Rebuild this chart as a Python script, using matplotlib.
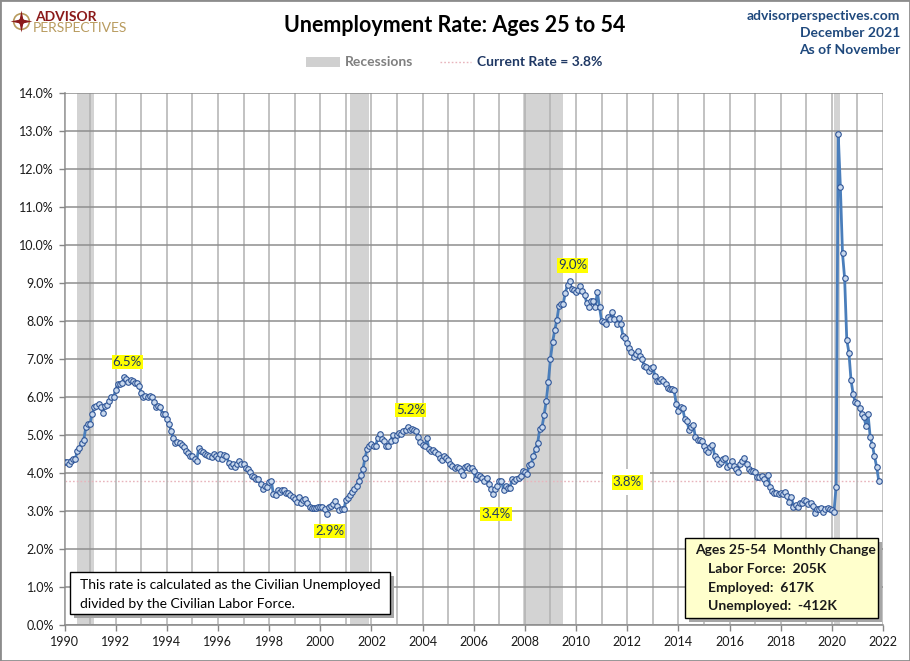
import numpy as np
import matplotlib
matplotlib.use('Agg')
import matplotlib.pyplot as plt
from matplotlib.patches import Rectangle, Polygon, Circle
from matplotlib.lines import Line2D

plt.rcParams['font.family'] = ['Lato', 'DejaVu Sans']

# ---------------- data ----------------
start_year = 1990
rates_1990s = [
    4.30, 4.28, 4.23, 4.32, 4.36, 4.36, 4.58, 4.67, 4.78, 4.86, 5.20, 5.29,
    5.30, 5.55, 5.73, 5.77, 5.81, 5.73, 5.59, 5.77, 5.80, 5.90, 5.99, 6.00,
    6.18, 6.34, 6.34, 6.36, 6.52, 6.47, 6.40, 6.45, 6.43, 6.38, 6.36, 6.30,
    6.10, 5.99, 6.03, 5.99, 6.03, 5.99, 5.86, 5.73, 5.77, 5.73, 5.55, 5.55,
    5.42, 5.29, 5.11, 4.93, 4.78, 4.82, 4.78, 4.73, 4.69, 4.58, 4.53, 4.45,
    4.45, 4.36, 4.32, 4.67, 4.58, 4.54, 4.50, 4.48, 4.45, 4.41, 4.51, 4.45,
    4.40, 4.49, 4.36, 4.47, 4.45, 4.27, 4.19, 4.23, 4.16, 4.23, 4.32, 4.23,
    4.23, 4.14, 4.10, 4.02, 3.93, 3.89, 3.83, 3.84, 3.72, 3.58, 3.67, 3.63,
    3.76, 3.80, 3.45, 3.41, 3.54, 3.50, 3.54, 3.56, 3.47, 3.47, 3.41, 3.37,
    3.32, 3.24, 3.37, 3.21, 3.30, 3.31, 3.22, 3.11, 3.09, 3.07, 3.09, 3.11,
]
rates_2000s = [
    3.11, 3.11, 3.06, 2.92, 3.11, 3.12, 3.18, 3.26, 3.12, 3.02, 3.04, 3.04,
    3.28, 3.35, 3.41, 3.50, 3.58, 3.67, 3.80, 3.95, 4.10, 4.40, 4.63, 4.70,
    4.76, 4.72, 4.72, 4.92, 5.02, 4.89, 4.85, 4.72, 4.72, 4.85, 5.00, 4.87,
    5.00, 5.05, 5.02, 5.11, 5.13, 5.22, 5.13, 5.15, 5.14, 5.11, 4.94, 4.82,
    4.74, 4.72, 4.91, 4.63, 4.59, 4.61, 4.54, 4.50, 4.40, 4.34, 4.45, 4.40,
    4.34, 4.24, 4.19, 4.13, 4.15, 4.13, 4.06, 3.96, 4.17, 4.19, 4.13, 4.13,
    4.05, 3.85, 3.96, 3.93, 3.86, 3.79, 3.87, 3.72, 3.58, 3.44, 3.58, 3.67,
    3.80, 3.80, 3.54, 3.65, 3.61, 3.61, 3.85, 3.80, 3.85, 3.87, 3.91, 4.05,
    4.02, 3.98, 4.20, 4.24, 4.45, 4.62, 4.80, 5.17, 5.20, 5.53, 5.89, 6.40,
    7.01, 7.45, 7.76, 8.03, 8.40, 8.46, 8.46, 8.75, 8.95, 9.04, 8.84, 8.82,
]
rates_2010s = [
    8.77, 8.82, 8.93, 8.78, 8.69, 8.48, 8.38, 8.52, 8.52, 8.36, 8.77, 8.36,
    8.00, 7.98, 7.92, 8.11, 8.05, 8.23, 8.04, 7.92, 8.08, 7.92, 7.61, 7.54,
    7.41, 7.28, 7.19, 7.04, 7.13, 7.22, 7.09, 7.00, 6.82, 6.80, 6.69, 6.76,
    6.80, 6.56, 6.43, 6.43, 6.47, 6.43, 6.34, 6.24, 6.21, 6.20, 6.18, 5.82,
    5.64, 5.75, 5.71, 5.42, 5.38, 5.13, 5.20, 5.26, 4.94, 4.87, 4.87, 4.83,
    4.72, 4.60, 4.54, 4.68, 4.75, 4.46, 4.37, 4.24, 4.30, 4.37, 4.39, 4.17,
    4.22, 4.32, 4.19, 4.10, 4.02, 4.24, 4.31, 4.39, 4.25, 4.10, 4.06, 4.05,
    4.02, 3.89, 3.89, 3.93, 3.84, 3.73, 3.96, 3.62, 3.52, 3.47, 3.47, 3.45,
    3.47, 3.45, 3.49, 3.40, 3.23, 3.38, 3.11, 3.15, 3.11, 3.22, 3.20, 3.28,
    3.26, 3.19, 3.20, 3.13, 2.96, 3.04, 3.06, 3.09, 2.98, 3.06, 3.09, 3.04,
]
rates_2020s = [
    3.02, 2.98, 3.64, 12.91, 11.53, 9.78, 9.12, 7.51, 7.17, 6.44, 6.08, 5.86,
    5.85, 5.71, 5.54, 5.47, 5.25, 5.54, 4.94, 4.74, 4.44, 4.17, 3.80,
]

recession_starts = [1990.50, 2001.17, 2007.92, 2020.08]
recession_ends = [1991.17, 2001.92, 2009.50, 2020.33]

current_rate = 3.8
y_tick_values = list(range(0, 15))
x_tick_years = list(range(1990, 2023, 2))

box_note_lines = ["This rate is calculated as the Civilian Unemployed",
                  "divided by the Civilian Labor Force."]
change_title = "Ages 25-54  Monthly Change"
change_labels = ["Labor Force:", "Employed:", "Unemployed:"]
change_values = ["205K", "617K", "-412K"]

# ---------------- figure ----------------
W, H = 910, 661
fig = plt.figure(figsize=(W / 100, H / 100), dpi=100)
fig.patch.set_facecolor('white')

def fx(px):
    return px / W

def fy(py):
    return 1 - py / H

ax_left, ax_right, ax_top, ax_bottom = 64.5, 883, 93, 625
ax = fig.add_axes([fx(ax_left), fy(ax_bottom), (ax_right - ax_left) / W, (ax_bottom - ax_top) / H])

rates = np.array(rates_1990s + rates_2000s + rates_2010s + rates_2020s)
x = start_year + np.arange(len(rates)) / 12.0

for s, e in zip(recession_starts, recession_ends):
    ax.axvspan(s, e, color='#D3D3D3', lw=0, zorder=0)

ax.set_xlim(1990, 2022)
ax.set_ylim(0, 14)
ax.set_xticks(x_tick_years)
ax.set_xticks(list(range(1990, 2023)), minor=True)
ax.set_yticks(y_tick_values)
ax.set_yticklabels([f"{v:.1f}%" for v in y_tick_values])
ax.set_xticklabels([str(v) for v in x_tick_years])

ax.grid(axis='x', which='both', color='#B2B2B2', lw=1.1, zorder=1)
ax.grid(axis='y', which='major', color='#8E8E8E', lw=1.1, zorder=1)
ax.set_axisbelow(False)
for sp in ['top', 'right']:
    ax.spines[sp].set_visible(False)
for sp in ['left', 'bottom']:
    ax.spines[sp].set_color('#868686')
    ax.spines[sp].set_linewidth(1.1)
ax.tick_params(axis='both', which='major', labelsize=9, colors='#868686',
               labelcolor='#1a1a1a', length=4, width=1)
ax.tick_params(axis='x', which='minor', length=0)
ax.tick_params(axis='x', pad=4)

ax.axhline(current_rate, color='#E8B4BC', lw=1, ls=(0, (1.2, 1.5)), zorder=2)

ax.plot(x, rates, color='#4A7EBB', lw=2, zorder=4,
        marker='o', markersize=4, markerfacecolor='#C9D9EE',
        markeredgecolor='#2F5597', markeredgewidth=0.8)

# annotations of extremes
lab_style = dict(color='#1F3864', fontsize=9.5, ha='center', va='center',
                 bbox=dict(boxstyle='square,pad=0.08', fc='#FFFF00', ec='none'), zorder=6)

def label_point(mask_lo, mask_hi, kind, dy):
    sel = (x >= mask_lo) & (x < mask_hi)
    idx = np.where(sel)[0]
    i = idx[np.argmax(rates[idx])] if kind == 'max' else idx[np.argmin(rates[idx])]
    ax.annotate(f"{rates[i]:.1f}%", xy=(x[i], rates[i]), xytext=(3, dy),
                textcoords='offset pixels', **lab_style)

label_point(1990, 1996, 'max', 15)
label_point(2002, 2006, 'max', 17)
label_point(2008, 2012, 'max', 16)
label_point(1999, 2002, 'min', -17)
label_point(2005, 2008, 'min', -20)

ax.text(2012.0, current_rate - 0.05, f"{current_rate:.1f}%", zorder=6,
        **{k: v for k, v in lab_style.items() if k != 'zorder'})
ax.add_patch(Rectangle((2011.05, current_rate - 0.38), 1.85, 0.68, fc='white', ec='none', zorder=3))

# ---------------- header ----------------
fig.text(fx(455), fy(25), "Unemployment Rate: Ages 25 to 54", ha='center', va='center',
         fontsize=15.5, fontweight='bold', color='black')

navy = '#1F497D'
for i, t in enumerate(["advisorperspectives.com", "December 2021", "As of November"]):
    fig.text(fx(900), fy(16 + 17 * i), t, ha='right', va='center', fontsize=10,
             fontweight='bold', color=navy)

# legend
fig.add_artist(Rectangle((fx(306), fy(67)), fx(34), 10 / H, transform=fig.transFigure,
                         fc='#D0D0D0', ec='none'))
fig.text(fx(345), fy(62), "Recessions", ha='left', va='center', fontsize=10,
         fontweight='bold', color='#7F7F7F')
fig.add_artist(Line2D([fx(440), fx(471)], [fy(62), fy(62)], transform=fig.transFigure,
                      color='#E8B4BC', lw=1, ls=(0, (1.2, 1.5))))
fig.text(fx(477), fy(62), f"Current Rate = {current_rate:.1f}%", ha='left', va='center',
         fontsize=10, fontweight='bold', color='#1F3864')

# logo
lax = fig.add_axes([fx(10), fy(33), 23 / W, 23 / H])
lax.set_xlim(-1.1, 1.1)
lax.set_ylim(-1.1, 1.1)
lax.set_aspect('equal')
lax.axis('off')
lax.add_patch(Circle((0, 0), 0.75, fill=False, ec='#B89B5E', lw=1.2))
star = [(0, 1.05), (0.18, 0.18), (1.05, 0), (0.18, -0.18), (0, -1.05), (-0.18, -0.18), (-1.05, 0), (-0.18, 0.18)]
lax.add_patch(Polygon(star, closed=True, fc='#8B1A1A', ec='none'))
lax.add_patch(Circle((0, 0), 0.28, fc='#8B1A1A', ec='none'))
fig.text(fx(35), fy(21), "ADVISOR", ha='left', va='baseline', fontsize=10,
         fontweight='bold', color='#8B1A1A')
fig.text(fx(33), fy(32), "PERSPECTIVES", ha='left', va='baseline', fontsize=10,
         color='#B89B5E')

# ---------------- boxes ----------------
def draw_box(x0, y0, x1, y1, fc):
    fig.add_artist(Rectangle((fx(x0 + 4), fy(y1 + 4)), (x1 - x0) / W, (y1 - y0) / H,
                             transform=fig.transFigure, fc='#A6A6A6', ec='none', zorder=7))
    fig.add_artist(Rectangle((fx(x0), fy(y1)), (x1 - x0) / W, (y1 - y0) / H,
                             transform=fig.transFigure, fc=fc, ec='black', lw=1, zorder=8))

draw_box(70, 572, 390, 614, 'white')
for i, t in enumerate(box_note_lines):
    fig.text(fx(80), fy(585 + 18.5 * i), t, ha='left', va='center', fontsize=10,
             color='black', zorder=9)

draw_box(685, 538, 878, 618, '#FFFFCC')
fig.text(fx(695), fy(550), change_title, ha='left', va='center', fontsize=10,
         fontweight='bold', color='#1a1a1a', zorder=9)
for i, (lbl, val) in enumerate(zip(change_labels, change_values)):
    fig.text(fx(708), fy(569 + 18.5 * i), f"{lbl}  {val}", ha='left', va='center',
             fontsize=10, fontweight='bold', color='#1a1a1a', zorder=9)

# figure border
fig.add_artist(Rectangle((0, 0), 1, 1, transform=fig.transFigure, fill=False,
                         ec='#8C8C8C', lw=2, zorder=10))

fig.savefig('out.png', dpi=100)
